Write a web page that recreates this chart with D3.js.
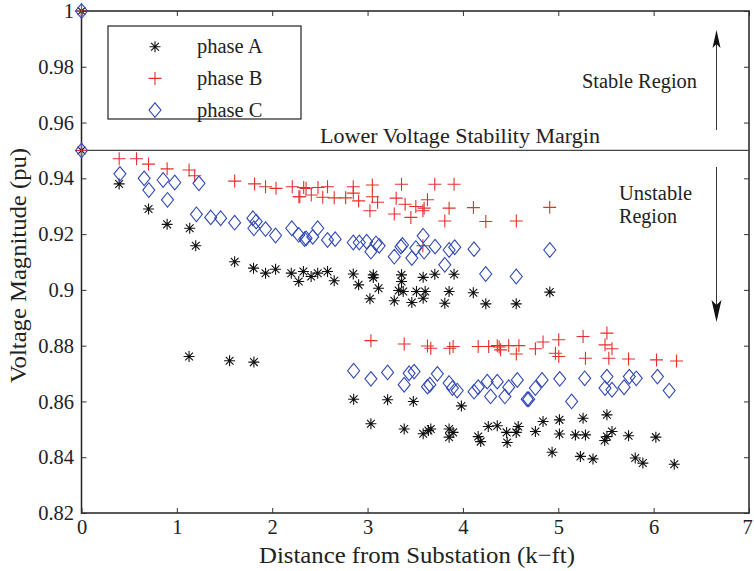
<!DOCTYPE html>
<html>
<head>
<meta charset="utf-8">
<script src="https://cdn.jsdelivr.net/npm/d3@7"></script>
<style>
  body { margin: 0; background: #fff; }
  svg text { font-family: "Liberation Serif", "DejaVu Serif", serif; }
</style>
</head>
<body>
<div id="chart"></div>
<script>
/* Voltage magnitude vs distance from substation, three phases */

// phase A (black stars)
const phaseA_dist = [0, 0, 0.395, 0.703, 0.898, 1.135, 1.198, 1.606, 1.804, 1.93, 2.035, 2.20, 2.278, 2.327, 2.408, 2.477, 2.58, 2.65,
  2.85, 2.906, 3.06, 3.06, 3.025, 3.115, 3.28, 3.356, 3.356, 3.326, 3.374, 3.464, 3.513, 3.583, 3.604, 3.583, 3.705, 3.907,
  3.855, 3.81, 4.109, 4.24, 4.559, 4.911, 1.128, 1.553, 1.808,
  2.854, 3.21, 3.48, 3.984, 3.035, 3.384, 3.583, 3.638, 3.663, 3.855, 3.855, 3.897, 4.16, 4.186, 4.266, 4.36, 4.458, 4.464,
  4.559, 4.58, 4.76, 4.84, 4.935, 5.012, 5.012, 5.18, 5.26, 5.285, 5.232, 5.364, 5.51, 5.487, 5.51, 5.563, 5.737, 5.807,
  5.887, 6.023, 6.216];
const phaseA_volt = [1.0, 0.95, 0.938, 0.929, 0.9235, 0.9221, 0.9158, 0.9101, 0.9078, 0.906, 0.9074, 0.906, 0.903, 0.9066, 0.9048, 0.906, 0.9066, 0.9033,
  0.9057, 0.9018, 0.9054, 0.9044, 0.8968, 0.9006, 0.8961, 0.9054, 0.903, 0.8998, 0.8994, 0.8955, 0.8994, 0.9045, 0.8994, 0.897, 0.9056, 0.9056,
  0.8994, 0.8952, 0.899, 0.895, 0.895, 0.8992, 0.8761, 0.8746, 0.8741,
  0.8608, 0.8606, 0.860, 0.8584, 0.852, 0.8501, 0.8484, 0.8496, 0.8501, 0.8501, 0.8472, 0.8489, 0.8474, 0.8456, 0.851, 0.8513, 0.8489, 0.8453,
  0.8489, 0.851, 0.8492, 0.8528, 0.8418, 0.8534, 0.8483, 0.848, 0.854, 0.848, 0.8403, 0.8394, 0.8552, 0.846, 0.8474, 0.8492, 0.8477, 0.8397,
  0.8379, 0.8472, 0.8375];

// phase B (red plus)
const phaseB_dist = [0, 0, 0.395, 0.577, 0.703, 0.898, 1.128, 1.187, 1.606, 1.815, 1.93, 2.04, 2.21, 2.28, 2.355, 2.33, 2.29, 2.41, 2.48,
  2.58, 2.53, 2.65, 2.77, 2.85, 2.85, 2.906, 3.05, 3.05, 3.105, 3.025, 3.356, 3.30, 3.394, 3.28, 3.454, 3.506, 3.593, 3.58,
  3.628, 3.705, 3.907, 3.855, 3.81, 4.11, 4.24, 4.56, 4.91, 3.58,
  3.035, 3.384, 3.628, 3.663, 3.862, 3.897, 4.16, 4.27, 4.36, 4.395, 4.48, 4.56, 4.587, 4.38, 4.76, 4.84, 5.005, 4.97,
  5.005, 5.26, 5.285, 5.51, 5.49, 5.563, 5.53, 5.737, 6.03, 6.24];
const phaseB_volt = [1.0, 0.95, 0.947, 0.947, 0.9451, 0.9434, 0.943, 0.9409, 0.939, 0.938, 0.937, 0.9364, 0.937, 0.9334, 0.9364, 0.9367, 0.9334, 0.934, 0.9367,
  0.937, 0.9332, 0.933, 0.933, 0.937, 0.9347, 0.9319, 0.9376, 0.9334, 0.9314, 0.9284, 0.9379, 0.9329, 0.9307, 0.9272, 0.926, 0.9299, 0.9293, 0.9284,
  0.9323, 0.9379, 0.9379, 0.9293, 0.9247, 0.9295, 0.9245, 0.9247, 0.9296, 0.9158,
  0.8818, 0.8806, 0.8799, 0.8791, 0.8791, 0.8797, 0.8797, 0.8797, 0.88, 0.8785, 0.88, 0.877, 0.88, 0.8795, 0.8789, 0.8813, 0.8821, 0.8773,
  0.8761, 0.8833, 0.8755, 0.8845, 0.8803, 0.8789, 0.8755, 0.8752, 0.8749, 0.8745];

// phase C (blue diamonds)
const phaseC_dist = [0, 0, 0.403, 0.657, 0.706, 0.856, 0.978, 0.902, 1.232, 1.205, 1.355, 1.459, 1.606, 1.797, 1.832, 1.808, 1.93, 2.035,
  2.205, 2.278, 2.355, 2.34, 2.425, 2.477, 2.58, 2.66, 2.85, 2.913, 2.99, 3.035, 3.088, 3.122, 3.28, 3.35, 3.366, 3.464,
  3.506, 3.583, 3.593, 3.708, 3.81, 3.855, 3.914, 4.116, 4.239, 4.559, 4.911,
  2.854, 3.035, 3.21, 3.384, 3.436, 3.488, 3.628, 3.653, 3.732, 3.855, 3.89, 3.94, 4.116, 4.16, 4.255, 4.29, 4.36, 4.44,
  4.48, 4.57, 4.674, 4.69, 4.76, 4.83, 5.015, 5.14, 5.277, 5.51, 5.49, 5.563, 5.69, 5.745, 5.818, 6.04, 6.163];
const phaseC_volt = [1.0, 0.95, 0.9416, 0.94, 0.9358, 0.9394, 0.9385, 0.9323, 0.9382, 0.9271, 0.926, 0.9257, 0.9241, 0.9257, 0.9245, 0.9221, 0.9218, 0.9195,
  0.9221, 0.9197, 0.9185, 0.9182, 0.919, 0.9221, 0.9179, 0.9182, 0.917, 0.917, 0.9173, 0.9137, 0.9167, 0.9158, 0.9119, 0.9155, 0.9161, 0.9114,
  0.915, 0.9194, 0.9137, 0.9155, 0.909, 0.9143, 0.9153, 0.9146, 0.9057, 0.9048, 0.9143,
  0.871, 0.8681, 0.8704, 0.866, 0.8701, 0.8707, 0.8653, 0.866, 0.8699, 0.8666, 0.8648, 0.8639, 0.8635, 0.8651, 0.8671, 0.8618, 0.8671, 0.8618,
  0.8651, 0.8677, 0.8608, 0.8608, 0.8648, 0.8677, 0.8681, 0.86, 0.8683, 0.8689, 0.8648, 0.8642, 0.8651, 0.8689, 0.8683, 0.8689, 0.8639];

const xTicks = [0, 1, 2, 3, 4, 5, 6, 7];
const yTicks = [0.82, 0.84, 0.86, 0.88, 0.9, 0.92, 0.94, 0.96, 0.98, 1];
const phaseNames = ["phase A", "phase B", "phase C"];
const marginValue = 0.95;

const width = 754, height = 571,
    margin = ({top: 11, right: 5, bottom: 58, left: 81.5});
const serif = "'Liberation Serif', 'DejaVu Serif', serif";

let svg = d3.select("#chart")
    .append("svg")
    .attr("width", width)
    .attr("height", height);

const x = d3.scaleLinear()
    .domain([0, 7])
    .range([margin.left, width - margin.right]);

const y = d3.scaleLinear()
    .domain([0.82, 1])
    .range([height - margin.bottom, margin.top]);

// marker path builders (MATLAB-like shapes)
const star = r => {
  const d = r * 0.707;
  return `M${-r},0L${r},0M0,${-r}L0,${r}M${-d},${-d}L${d},${d}M${-d},${d}L${d},${-d}`;
};
const plus = r => `M${-r},0L${r},0M0,${-r}L0,${r}`;
const diamond = (w, h) => `M0,${-h}L${w},0L0,${h}L${-w},0Z`;

const series = [
  {name: phaseNames[0], dist: phaseA_dist, volt: phaseA_volt, color: "#111", path: star(5.5)},
  {name: phaseNames[1], dist: phaseB_dist, volt: phaseB_volt, color: "#e3302c", path: plus(6.5)},
  {name: phaseNames[2], dist: phaseC_dist, volt: phaseC_volt, color: "#3149b5", path: diamond(6, 7.3)}
];

// axes with inward ticks on all four sides
const xAxis = g => g
    .attr("transform", `translate(0, ${height - margin.bottom})`)
    .call(d3.axisBottom(x).tickValues(xTicks).tickFormat(d3.format("d")).tickSizeInner(-5).tickSizeOuter(0).tickPadding(6));
const yAxis = g => g
    .attr("transform", `translate(${margin.left}, 0)`)
    .call(d3.axisLeft(y).tickValues(yTicks).tickFormat(d3.format(".2~f")).tickSizeInner(-5).tickSizeOuter(0).tickPadding(7.5));
const xTop = g => g
    .attr("transform", `translate(0, ${margin.top})`)
    .call(d3.axisTop(x).tickValues(xTicks).tickFormat("").tickSizeInner(-5).tickSizeOuter(0));
const yRight = g => g
    .attr("transform", `translate(${width - margin.right}, 0)`)
    .call(d3.axisRight(y).tickValues(yTicks).tickFormat("").tickSizeInner(-5).tickSizeOuter(0));

svg.append("rect")
    .attr("x", margin.left).attr("y", margin.top)
    .attr("width", x(7) - x(0)).attr("height", y(0.82) - y(1))
    .attr("fill", "none").attr("stroke", "#222").attr("stroke-width", 1.5);

[xAxis, yAxis, xTop, yRight].forEach(a => {
  const g = svg.append("g").call(a).attr("font-family", serif);
  g.select(".domain").remove();
  g.selectAll(".tick line").attr("stroke", "#333");
  g.selectAll("text").attr("font-size", 20.5).attr("font-family", serif).attr("fill", "#222");
});
// keep the last x label inside the page
svg.selectAll("text").filter(function() { return this.textContent === "7"; }).attr("dx", -2);

// helper for text with a fixed drawn length
const label = (parent, tx, ty, str, size, len) => parent.append("text")
    .attr("x", tx).attr("y", ty)
    .attr("font-size", size).attr("font-family", serif).attr("fill", "#222")
    .attr("textLength", len).attr("lengthAdjust", "spacingAndGlyphs")
    .text(str);

// axis titles
label(svg, 259, 563, "Distance from Substation (k\u2212ft)", 24, 316);
label(svg, 0, 0, "Voltage Magnitude (pu)", 24, 235)
    .attr("transform", "translate(26, 383) rotate(-90)");

// lower voltage stability margin
svg.append("line")
    .attr("x1", x(0)).attr("x2", x(7))
    .attr("y1", y(marginValue)).attr("y2", y(marginValue))
    .attr("stroke", "#444").attr("stroke-width", 1.2);
label(svg, 320, y(marginValue) - 7, "Lower Voltage Stability Margin", 20.5, 280);

// data points
series.forEach(s => {
  svg.append("g")
    .selectAll("path")
    .data(s.dist.map((d, i) => [d, s.volt[i]]))
    .join("path")
    .attr("transform", d => `translate(${x(d[0])},${y(d[1])})`)
    .attr("d", s.path)
    .attr("fill", "none")
    .attr("stroke", s.color)
    .attr("stroke-width", 1.1);
});

// region annotations
label(svg, 582, 88, "Stable Region", 20.5, 115);
label(svg, 619, 200, "Unstable", 20.5, 73);
label(svg, 619, 223, "Region", 20.5, 58);

const arrowX = 716.5;
svg.append("line").attr("x1", arrowX).attr("x2", arrowX).attr("y1", 130).attr("y2", 40).attr("stroke", "#333");
svg.append("path").attr("d", `M${arrowX},30L${arrowX - 4},48L${arrowX},44L${arrowX + 4},48Z`).attr("fill", "#111");
svg.append("line").attr("x1", arrowX).attr("x2", arrowX).attr("y1", 167).attr("y2", 312).attr("stroke", "#333");
svg.append("path").attr("d", `M${arrowX},322L${arrowX - 5},300L${arrowX},305L${arrowX + 5},300Z`).attr("fill", "#111");

// legend
const legend = svg.append("g");
legend.append("rect")
    .attr("x", 108).attr("y", 26).attr("width", 193).attr("height", 93)
    .attr("fill", "#fff").attr("stroke", "#222").attr("stroke-width", 1.2);
series.forEach((s, i) => {
  const ly = 46.7 + i * 31.7;
  legend.append("path")
    .attr("transform", `translate(155,${ly})`)
    .attr("d", s.path)
    .attr("fill", "none").attr("stroke", s.color).attr("stroke-width", 1.1);
  legend.append("text")
    .attr("x", 197).attr("y", ly + 6.5)
    .attr("font-size", 20.5).attr("font-family", serif).attr("fill", "#222")
    .text(s.name);
});
</script>
</body>
</html>
